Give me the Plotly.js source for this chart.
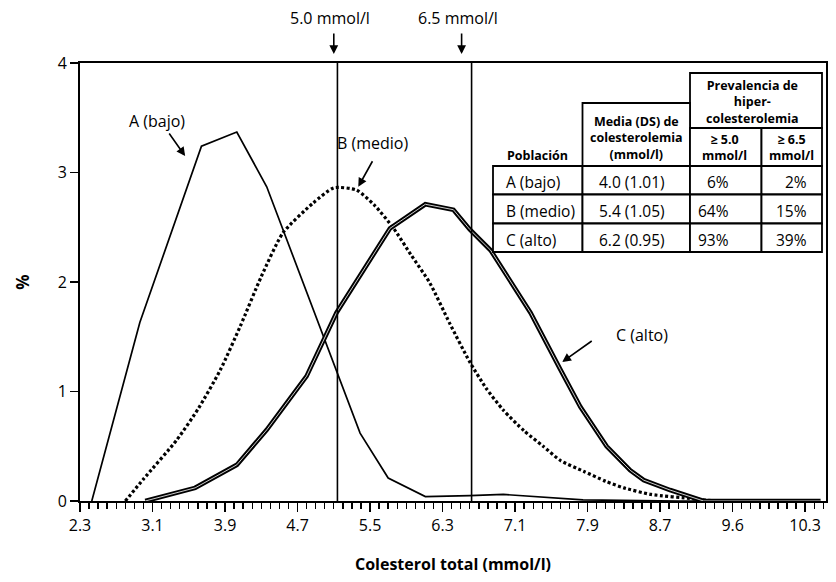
<!DOCTYPE html>
<html><head><meta charset="utf-8">
<script src="https://cdn.plot.ly/plotly-3.0.1.min.js"></script>
<style>html,body{margin:0;padding:0;background:#fff}</style>
</head><body><div id="chart" style="width:836px;height:582px"></div>
<script>
// ---- data ----
const aX = [2.43, 2.96, 3.64, 4.03, 4.36, 5.39, 5.70, 6.11, 6.60, 6.97, 7.85, 8.90, 10.45];
const aY = [0.00, 1.63, 3.24, 3.37, 2.87, 0.62, 0.21, 0.04, 0.05, 0.06, 0.01, 0.00, 0.00];

const bX = [2.80, 3.00, 3.37, 3.61, 3.85, 4.07, 4.30, 4.54, 4.87, 5.10, 5.35, 5.55, 5.76, 5.95, 6.16, 6.38, 6.60, 6.78, 6.97, 7.20, 7.41, 7.60, 7.86, 8.10, 8.30, 8.60, 9.07, 9.30];
const bY = [0.00, 0.20, 0.56, 0.85, 1.20, 1.60, 2.05, 2.45, 2.72, 2.86, 2.84, 2.70, 2.49, 2.25, 1.99, 1.62, 1.27, 1.03, 0.83, 0.64, 0.50, 0.37, 0.27, 0.18, 0.12, 0.06, 0.02, 0.00];

const cX = [3.02, 3.57, 4.03, 4.36, 4.80, 5.13, 5.72, 6.11, 6.42, 6.60, 6.83, 7.27, 7.60, 7.82, 8.11, 8.37, 8.52, 8.81, 9.18, 10.47];
const cY = [0.00, 0.12, 0.33, 0.65, 1.14, 1.72, 2.49, 2.71, 2.66, 2.48, 2.29, 1.72, 1.20, 0.86, 0.50, 0.28, 0.19, 0.10, 0.00, 0.00];

const cutoffX = [5.14, 6.62];
const cutoffLabels = ['5.0 mmol/l', '6.5 mmol/l'];

const xTickVals = [2.3, 3.1, 3.9, 4.7, 5.5, 6.3, 7.1, 7.9, 8.7, 9.5, 10.3];
const xTickText = ['2.3', '3.1', '3.9', '4.7', '5.5', '6.3', '7.1', '7.9', '8.7', '9.6', '10.3'];
const yTickVals = [0, 1, 2, 3, 4];

const seriesLabels = ['A (bajo)', 'B (medio)', 'C (alto)'];

const prevHeader = 'Prevalencia de<br>hiper-<br>colesterolemia';
const colHeaders = ['Población', 'Media (DS) de<br>colesterolemia<br>(mmol/l)', '≥ 5.0<br>mmol/l', '≥ 6.5<br>mmol/l'];
const populations = ['A (bajo)', 'B (medio)', 'C (alto)'];
const meanSD = ['4.0 (1.01)', '5.4 (1.05)', '6.2 (0.95)'];
const prev50 = ['6%', '64%', '93%'];
const prev65 = ['2%', '15%', '39%'];

// ---- layout helpers ----
const W = 836, H = 582, ML = 80, MR = 10, MT = 63, MB = 81;
const PW = W - ML - MR, PH = H - MT - MB;
const px = x => (x - ML) / PW;
const py = y => (H - MB - y) / PH;
const FONT = '"Open Sans", "Noto Sans", sans-serif';

const traces = [
  {x: aX, y: aY, mode: 'lines', line: {color: '#000', width: 1.7}, hoverinfo: 'skip', showlegend: false},
  {x: bX, y: bY, mode: 'lines', line: {color: '#000', width: 3.2, dash: '3px,2.4px', shape: 'spline', smoothing: 0.6}, hoverinfo: 'skip', showlegend: false},
  {x: cX, y: cY, mode: 'lines', line: {color: '#000', width: 4.6}, hoverinfo: 'skip', showlegend: false},
  {x: cX, y: cY, mode: 'lines', line: {color: '#fff', width: 1}, opacity: 0.8, hoverinfo: 'skip', showlegend: false}
];

const shapes = [];
cutoffX.forEach(v => shapes.push({type: 'line', xref: 'x', yref: 'y', x0: v, x1: v, y0: 0, y1: 4, line: {color: '#000', width: 1.6}}));

// table geometry (pixels)
const colE = [493, 582.5, 690, 761.5, 822];
const rowE = [166, 194.5, 223.5, 252];
const lw = 1.8;
function rect(x0, y0, x1, y1, fill) {
  shapes.push({type: 'rect', xref: 'paper', yref: 'paper', x0: px(x0), x1: px(x1), y0: py(y1), y1: py(y0),
    line: {color: '#000', width: lw}, fillcolor: fill || 'rgba(0,0,0,0)', layer: 'above'});
}
rect(colE[2], 73, colE[4], 128, '#fff');
rect(colE[1], 103, colE[2], rowE[0], '#fff');
rect(colE[2], 128, colE[3], rowE[0], '#fff');
rect(colE[3], 128, colE[4], rowE[0], '#fff');
for (let r = 0; r < 3; r++) for (let c = 0; c < 4; c++) rect(colE[c], rowE[r], colE[c + 1], rowE[r + 1], '#fff');

const ann = [];
function txt(text, x, y, size, opts) {
  ann.push(Object.assign({text: text, xref: 'paper', yref: 'paper', x: px(x), y: py(y), showarrow: false,
    font: {family: FONT, size: size, color: '#000'}, xanchor: 'center', yanchor: 'middle'}, opts || {}));
}
// table header
txt('<b>' + prevHeader + '</b>', 752, 102, 12.5);
txt('<b>' + colHeaders[0] + '</b>', 537, 155, 12.5);
txt('<b>' + colHeaders[1] + '</b>', 636, 138, 12.5);
txt('<b>' + colHeaders[2] + '</b>', 724, 147, 12.5);
txt('<b>' + colHeaders[3] + '</b>', 791, 147, 12.5);
// table body
for (let r = 0; r < 3; r++) {
  const yc = (rowE[r] + rowE[r + 1]) / 2 + 2;
  txt(populations[r], 504, yc, 15.5, {xanchor: 'left'});
  txt(meanSD[r], 632, yc, 15.5);
  txt(prev50[r], 731, yc, 15.5, {xanchor: 'right'});
  txt(prev65[r], 809, yc, 15.5, {xanchor: 'right'});
}

// series labels with arrows (data coords)
const lab = (text, x, y) => ann.push({text: text, x: x, y: y, xref: 'x', yref: 'y', showarrow: false,
  font: {family: FONT, size: 16, color: '#000'}});
const arr = (x, y, ax, ay) => ann.push({text: '', x: x, y: y, xref: 'x', yref: 'y', ax: ax, ay: ay,
  showarrow: true, arrowhead: 2, arrowsize: 1.1, arrowwidth: 1.6, arrowcolor: '#000', standoff: 0});
lab(seriesLabels[0], 3.15, 3.47); arr(3.46, 3.15, -17, -24);
lab(seriesLabels[1], 5.53, 3.27); arr(5.37, 2.87, 15, -27);
lab(seriesLabels[2], 8.50, 1.52); arr(7.62, 1.27, 31, -22);

// cutoff labels above plot
const cutLabX = [5.06, 6.47];
const cutArrX = [5.10, 6.51];
cutoffLabels.forEach((t, i) => {
  ann.push({text: t, x: cutLabX[i], y: py(18), xref: 'x', yref: 'paper', showarrow: false,
    font: {family: FONT, size: 16, color: '#000'}, yanchor: 'middle'});
  ann.push({text: '', x: cutArrX[i], y: py(54), xref: 'x', yref: 'paper', ax: 0, ay: -22,
    showarrow: true, arrowhead: 2, arrowsize: 1.1, arrowwidth: 1.6, arrowcolor: '#000', standoff: 0});
});

// tick labels: linear ticks every 0.8 with the printed labels as aliases
const alias = {};
xTickVals.forEach((v, i) => { alias[v.toFixed(1)] = xTickText[i]; });

const layout = {
  width: W, height: H,
  margin: {l: ML, r: MR, t: MT, b: MB},
  paper_bgcolor: '#fff', plot_bgcolor: '#fff',
  font: {family: FONT, size: 16, color: '#000'},
  xaxis: {
    range: [2.3, 10.53], tickmode: 'linear', tick0: xTickVals[0], dtick: 0.8, labelalias: alias,
    ticks: 'outside', ticklen: 9, tickwidth: 1.6, tickcolor: '#000',
    minor: {tickmode: 'linear', tick0: xTickVals[0], dtick: 0.1, ticks: 'outside', ticklen: 6, tickwidth: 1.4, tickcolor: '#000', showgrid: false},
    showline: true, linewidth: 2, linecolor: '#000', mirror: true,
    showgrid: false, zeroline: false, tickfont: {size: 16},
    title: {text: '<b>Colesterol total (mmol/l)</b>', font: {size: 16}, standoff: 24}
  },
  yaxis: {
    range: [0, 4], tickmode: 'array', tickvals: yTickVals,
    ticks: 'outside', ticklen: 8, tickwidth: 1.5, tickcolor: '#000',
    showline: true, linewidth: 2, linecolor: '#000', mirror: true,
    showgrid: false, zeroline: false, tickfont: {size: 16},
    title: {text: '<b>%</b>', font: {size: 17}, standoff: 24}
  },
  shapes: shapes,
  annotations: ann,
  showlegend: false
};

Plotly.newPlot('chart', traces, layout, {displayModeBar: false, staticPlot: true});
</script></body></html>
